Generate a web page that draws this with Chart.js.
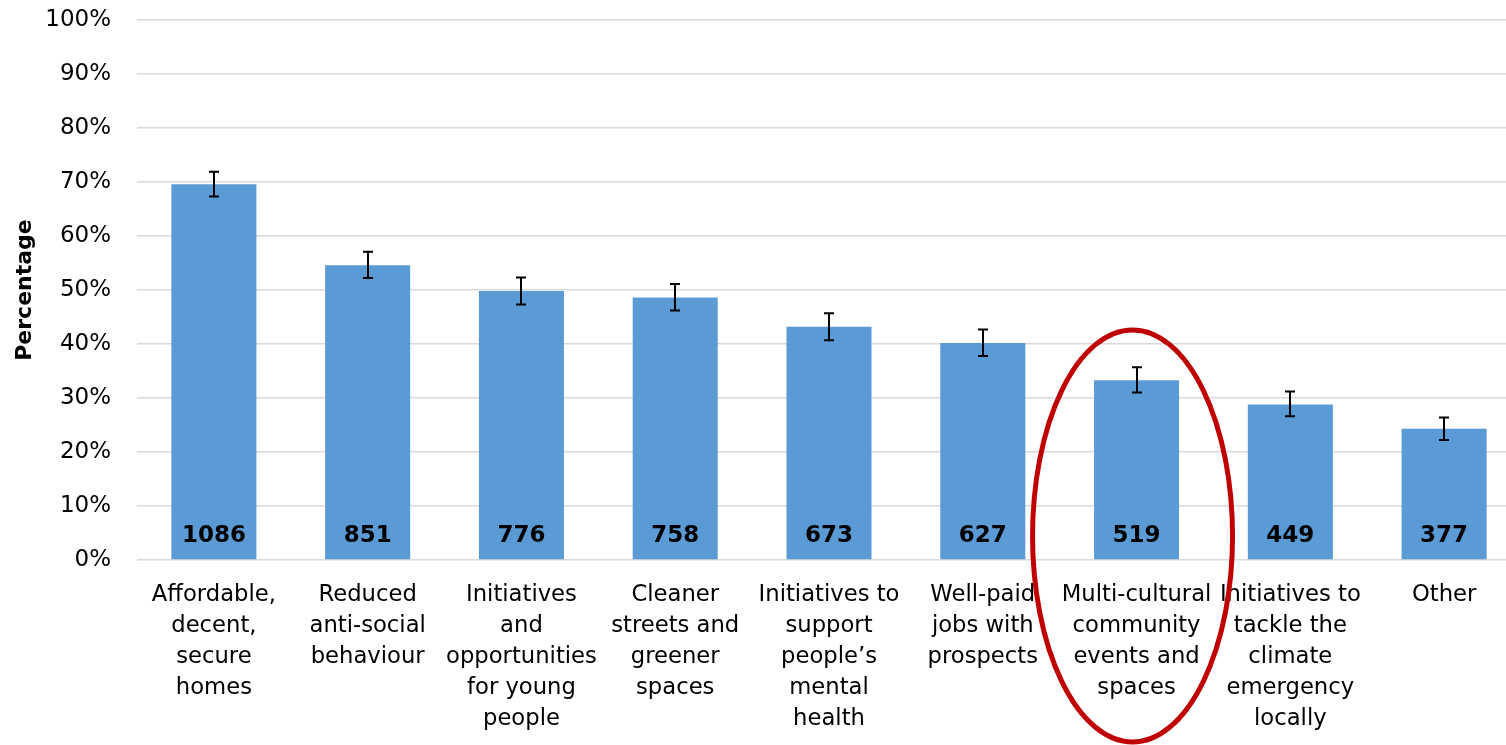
<!DOCTYPE html>
<html>
<head>
<meta charset="utf-8">
<script src="https://cdn.jsdelivr.net/npm/chart.js@4.4.1/dist/chart.umd.min.js"></script>
<style>
html,body{margin:0;padding:0;background:#fff;overflow:hidden;}
#wrap{width:1521px;height:745px;}
</style>
</head>
<body>
<div id="wrap"><canvas id="c" width="1521" height="745"></canvas></div>
<script>
const categories = [
  ["Affordable,","decent,","secure","homes"],
  ["Reduced","anti-social","behaviour"],
  ["Initiatives","and","opportunities","for young","people"],
  ["Cleaner","streets and","greener","spaces"],
  ["Initiatives to","support","people\u2019s","mental","health"],
  ["Well-paid","jobs with","prospects"],
  ["Multi-cultural","community","events and","spaces"],
  ["Initiatives to","tackle the","climate","emergency","locally"],
  ["Other"]
];
const percentages = [69.6, 54.6, 49.8, 48.6, 43.2, 40.2, 33.3, 28.8, 24.3];
const errLow  = [67.3, 52.2, 47.3, 46.2, 40.7, 37.8, 31.0, 26.6, 22.2];
const errHigh = [71.9, 57.1, 52.3, 51.1, 45.7, 42.7, 35.7, 31.2, 26.4];
const counts = [1086, 851, 776, 758, 673, 627, 519, 449, 377];
const highlightIndex = 6;
const highlightTopValue = 42.6;

const FONT = "'DejaVu Sans', Verdana, sans-serif";

const overlay = {
  id: 'overlay',
  afterDatasetsDraw(chart) {
    const ctx = chart.ctx;
    const meta = chart.getDatasetMeta(0);
    const y = chart.scales.y;
    ctx.save();
    ctx.strokeStyle = '#000';
    ctx.lineWidth = 2;
    meta.data.forEach((bar, i) => {
      const x = Math.round(bar.x);
      const yl = y.getPixelForValue(errLow[i]);
      const yh = y.getPixelForValue(errHigh[i]);
      ctx.beginPath();
      ctx.moveTo(x, yl); ctx.lineTo(x, yh);
      ctx.moveTo(x - 5, yl); ctx.lineTo(x + 5, yl);
      ctx.moveTo(x - 5, yh); ctx.lineTo(x + 5, yh);
      ctx.stroke();
    });
    ctx.fillStyle = '#000';
    ctx.font = "bold 23px " + FONT;
    ctx.textAlign = 'center';
    ctx.textBaseline = 'middle';
    const base = y.getPixelForValue(0);
    meta.data.forEach((bar, i) => {
      ctx.fillText(String(counts[i]), bar.x, base - 24);
    });
    ctx.restore();
  },
  afterDraw(chart) {
    const ctx = chart.ctx;
    const meta = chart.getDatasetMeta(0);
    const y = chart.scales.y;
    const bar = meta.data[highlightIndex];
    const top = y.getPixelForValue(highlightTopValue);
    const bottom = chart.height - 3;
    const cx = bar.x - 4;
    const cy = (top + bottom) / 2;
    const ry = (bottom - top) / 2;
    const rx = 100;
    ctx.save();
    ctx.strokeStyle = '#C00000';
    ctx.lineWidth = 5;
    ctx.beginPath();
    ctx.ellipse(cx, cy, rx, ry, 0, 0, Math.PI * 2);
    ctx.stroke();
    ctx.restore();
  }
};

new Chart(document.getElementById('c'), {
  type: 'bar',
  data: {
    labels: categories,
    datasets: [{
      data: percentages,
      backgroundColor: '#5B9BD5',
      borderWidth: 0,
      barPercentage: 0.553,
      categoryPercentage: 1.0
    }]
  },
  options: {
    responsive: false,
    animation: false,
    devicePixelRatio: 1,
    layout: { padding: { top: 20, left: 12, right: 0, bottom: 0 } },
    plugins: { legend: { display: false }, tooltip: { enabled: false } },
    scales: {
      x: {
        grid: { display: false },
        border: { display: false },
        ticks: {
          color: '#000',
          font: { family: FONT, size: 22.7, lineHeight: 1.366 },
          padding: 12,
          maxRotation: 0,
          minRotation: 0,
          autoSkip: false
        },
        afterFit(s) { s.height = 185; s.paddingTop = 0; s.paddingBottom = 0; }
      },
      y: {
        min: 0, max: 100,
        border: { display: false },
        grid: { color: '#D9D9D9', lineWidth: 1.5, drawTicks: false },
        ticks: {
          stepSize: 10,
          color: '#000',
          padding: 26,
          font: { family: FONT, size: 23 },
          callback: v => v + '%'
        },
        title: {
          display: true,
          text: 'Percentage',
          color: '#000',
          font: { family: FONT, size: 22, weight: 'bold' },
          padding: { top: 0, bottom: 0 }
        },
        afterFit(s) { s.width = 125; s.paddingTop = 0; s.paddingBottom = 0; }
      }
    }
  },
  plugins: [overlay]
});
</script>
</body>
</html>
